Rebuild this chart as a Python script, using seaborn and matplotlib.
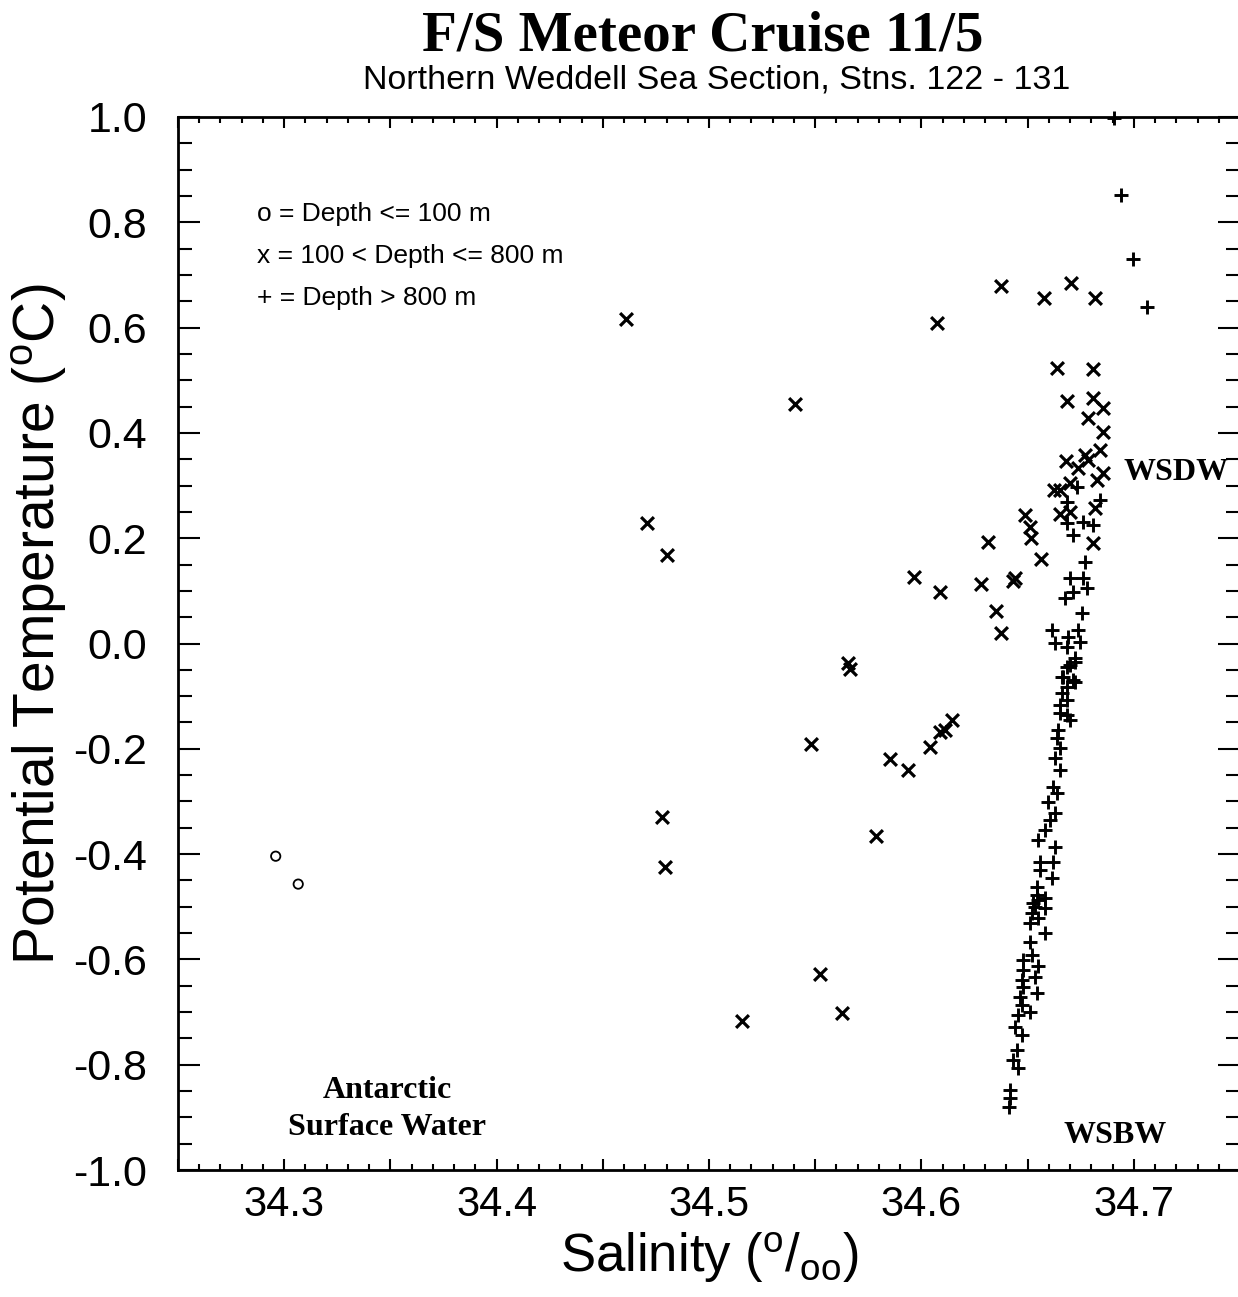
#!/usr/bin/env python3
import matplotlib
matplotlib.use('Agg')
import matplotlib.pyplot as plt
import seaborn as sns
import pandas as pd
from matplotlib.ticker import MultipleLocator, FuncFormatter

# === Data ===
# depth <= 100 m
sal_shallow = [34.296, 34.3066]
temp_shallow = [-0.404, -0.457]

# 100 < depth <= 800 m
sal_mid = [34.4608, 34.5407, 34.4706, 34.4800, 34.5656, 34.5665, 34.5482, 34.4777,
           34.4791, 34.5157, 34.5524, 34.5628, 34.5787, 34.5853, 34.5938, 34.5966,
           34.6041, 34.6088, 34.6112, 34.6145, 34.6088, 34.6074, 34.6281, 34.6314,
           34.6351, 34.6375, 34.6375, 34.6431, 34.6440, 34.6488, 34.6511, 34.6516,
           34.6563, 34.6577, 34.6638, 34.6704, 34.6685, 34.6817, 34.6807, 34.6807,
           34.6854, 34.6784, 34.6854, 34.6680, 34.6770, 34.6840, 34.6854, 34.6826,
           34.6624, 34.6700, 34.6652, 34.6700, 34.6817, 34.6807, 34.6737, 34.6652,
           34.6784]
temp_mid = [0.616, 0.455, 0.229, 0.168, -0.037, -0.048, -0.191, -0.330,
            -0.424, -0.717, -0.628, -0.702, -0.366, -0.219, -0.240, 0.126,
            -0.197, -0.168, -0.164, -0.145, 0.098, 0.609, 0.113, 0.193,
            0.062, 0.020, 0.679, 0.119, 0.124, 0.244, 0.221, 0.200,
            0.160, 0.656, 0.523, 0.685, 0.461, 0.656, 0.521, 0.466,
            0.447, 0.428, 0.402, 0.347, 0.358, 0.368, 0.324, 0.311,
            0.292, 0.305, 0.246, 0.250, 0.257, 0.191, 0.333, 0.292,
            0.348]

# depth > 800 m
sal_deep = [34.6906, 34.6939, 34.6995, 34.7061,
            34.6732, 34.6685, 34.6840, 34.6685, 34.6760, 34.6807, 34.6713, 34.6770,
            34.6700, 34.6760, 34.6779, 34.6713, 34.6676, 34.6756, 34.6614, 34.6737,
            34.6690, 34.6629, 34.6746, 34.6685, 34.6723, 34.6685, 34.6661, 34.6713,
            34.6685,
            34.6700, 34.6723, 34.6666, 34.6723, 34.6661, 34.6685, 34.6652, 34.6685,
            34.6652, 34.6700, 34.6643, 34.6638, 34.6652, 34.6629, 34.6652, 34.6619,
            34.6638, 34.6596, 34.6629, 34.6605, 34.6582, 34.6549, 34.6629, 34.6558,
            34.6619, 34.6558, 34.6614, 34.6544, 34.6549, 34.6534,
            34.6544, 34.6582, 34.6525, 34.6582, 34.6520, 34.6549, 34.6511, 34.6582,
            34.6511, 34.6520, 34.6478, 34.6549, 34.6478, 34.6534, 34.6473, 34.6478,
            34.6544, 34.6464, 34.6473, 34.6511, 34.6455, 34.6440, 34.6473, 34.6450,
            34.6431, 34.6455, 34.6417, 34.6417, 34.6412]
temp_deep = [0.998, 0.852, 0.730, 0.639,
             0.297, 0.269, 0.273, 0.229, 0.231, 0.225, 0.206, 0.155,
             0.124, 0.124, 0.105, 0.098, 0.086, 0.058, 0.026, 0.026,
             0.012, 0.001, 0.003, -0.007, -0.028, -0.045, -0.064, -0.069,
             -0.083,
             -0.041, -0.035, -0.064, -0.073, -0.094, -0.107, -0.117, -0.136,
             -0.132, -0.145, -0.164, -0.179, -0.198, -0.217, -0.240, -0.273,
             -0.284, -0.301, -0.322, -0.335, -0.354, -0.373, -0.387, -0.415,
             -0.415, -0.430, -0.445, -0.463, -0.487, -0.500,
             -0.478, -0.483, -0.493, -0.502, -0.512, -0.521, -0.531, -0.550,
             -0.567, -0.592, -0.601, -0.613, -0.620, -0.633, -0.639, -0.652,
             -0.664, -0.671, -0.687, -0.700, -0.706, -0.728, -0.744, -0.772,
             -0.791, -0.806, -0.848, -0.863, -0.880]

x_ticks = [34.3, 34.4, 34.5, 34.6, 34.7]
y_ticks = [-1.0, -0.8, -0.6, -0.4, -0.2, 0.0, 0.2, 0.4, 0.6, 0.8, 1.0]

df_shallow = pd.DataFrame({"sal": sal_shallow, "temp": temp_shallow})
df_mid = pd.DataFrame({"sal": sal_mid, "temp": temp_mid})
df_deep = pd.DataFrame({"sal": sal_deep, "temp": temp_deep})

sns.set_style("ticks")
plt.rcParams['font.family'] = ['Liberation Sans', 'DejaVu Sans']
plt.rcParams['axes.unicode_minus'] = False
plt.rcParams['mathtext.default'] = 'regular'
plt.rcParams['text.color'] = 'black'
plt.rcParams['axes.labelcolor'] = 'black'

fig = plt.figure(figsize=(12.38, 12.97), dpi=100)
ax = fig.add_axes([178 / 1238, 1 - 1170 / 1297, 1062 / 1238, 1053 / 1297])

sns.scatterplot(data=df_shallow, x="sal", y="temp", ax=ax, marker="o", s=45,
                facecolor="none", edgecolor="black", linewidth=1.3)
sns.scatterplot(data=df_mid, x="sal", y="temp", ax=ax, marker="x", s=85,
                color="black", linewidth=2.3)
sns.scatterplot(data=df_deep, x="sal", y="temp", ax=ax, marker="+", s=110,
                color="black", linewidth=2.1, clip_on=False)

ax.set_xlim(34.25, 34.75)
ax.set_ylim(-1.0, 1.0)

# longer ticks every 0.05, labels every 0.1
ax.xaxis.set_major_locator(MultipleLocator(0.05))
ax.xaxis.set_minor_locator(MultipleLocator(0.01))
ax.xaxis.set_major_formatter(FuncFormatter(
    lambda v, p: f"{v:.1f}" if any(abs(v - t) < 1e-6 for t in x_ticks) else ""))
ax.set_yticks(y_ticks)
ax.yaxis.set_minor_locator(MultipleLocator(0.05))
ax.yaxis.set_major_formatter(FuncFormatter(lambda v, p: f"{v:.1f}"))

ax.tick_params(which="both", direction="in", top=True, right=True, width=1.5,
               colors="black", labelsize=31)
ax.tick_params(axis="x", which="major", length=8, pad=11, labelsize=30)
ax.tick_params(axis="x", which="minor", length=4)
ax.tick_params(axis="y", which="major", length=16, pad=22)
ax.tick_params(axis="y", which="minor", length=10)
for sp in ax.spines.values():
    sp.set_linewidth(2)
    sp.set_color("black")

ax.set_xlabel("Salinity ($^{o}$/$_{oo}$)", fontsize=38)
ax.xaxis.set_label_coords(0.5, -0.057)
ax.set_ylabel("Potential Temperature ($^{o}$C)", fontsize=41)
ax.yaxis.set_label_coords(-0.103, 0.518)

# key in upper left
key = ["o = Depth <= 100 m", "x = 100 < Depth <= 800 m", "+ = Depth > 800 m"]
for i, line in enumerate(key):
    ax.text(0.0745, 0.908 - 0.04 * i, line, transform=ax.transAxes,
            ha="left", va="center", fontsize=19)

serif = ['Liberation Serif', 'DejaVu Serif']
ax.text(0.197, 0.058, "Antarctic\nSurface Water", transform=ax.transAxes,
        ha="center", va="center", fontsize=23, fontweight="bold",
        family=serif, linespacing=1.4)
ax.text(0.940, 0.662, "WSDW", transform=ax.transAxes, ha="center",
        va="center", fontsize=23, fontweight="bold", family=serif)
ax.text(0.882, 0.033, "WSBW", transform=ax.transAxes, ha="center",
        va="center", fontsize=23, fontweight="bold", family=serif)

fig.text(0.568, 0.972, "F/S Meteor Cruise 11/5", ha="center", va="center",
         fontsize=41, fontweight="bold", family=serif)
fig.text(0.579, 0.938, "Northern Weddell Sea Section, Stns. 122 - 131",
         ha="center", va="center", fontsize=24.5)

fig.savefig("out.png", dpi=100, facecolor="white")
